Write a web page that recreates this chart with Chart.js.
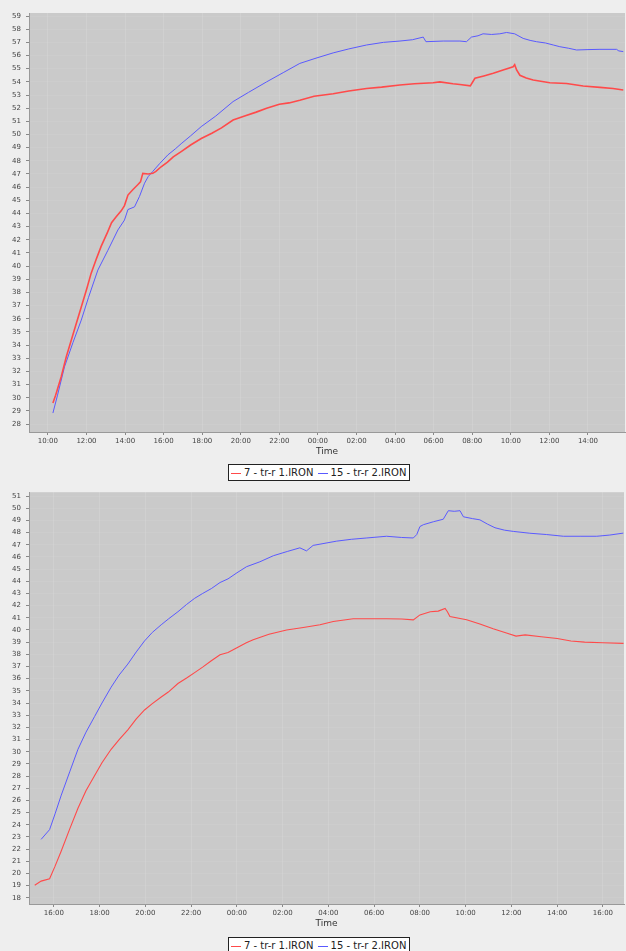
<!DOCTYPE html>
<html>
<head>
<meta charset="utf-8">
<title>IRON temperatures</title>
<script src="https://cdn.jsdelivr.net/npm/chart.js@4.4.0/dist/chart.umd.min.js"></script>
<style>
  body { margin: 0; background: #eeeeee; width: 626px; height: 951px; position: relative; overflow: hidden; font-family: "DejaVu Sans", sans-serif; }
  canvas { position: absolute; left: 0; }
  .legend { position: absolute; left: 228px; height: 15px; border: 1px solid #222; background: #fff; font-size: 10px; line-height: 15px; padding: 0 3px 0 1px; white-space: nowrap; color: #222; }
  .legend .swatch { display: inline-block; width: 10px; height: 1px; vertical-align: middle; margin: 0 3px 0 1px; }
</style>
</head>
<body>
<canvas id="topChart" width="626" height="460" style="top:0"></canvas>
<div class="legend" style="top:464px">
  <span class="swatch" style="background:#ff4a4a"></span>7 - tr-r 1.IRON
  <span class="swatch" style="background:#5a5aff"></span>15 - tr-r 2.IRON
</div>
<canvas id="bottomChart" width="626" height="449" style="top:483px"></canvas>
<div class="legend" style="top:937px">
  <span class="swatch" style="background:#ff4a4a"></span>7 - tr-r 1.IRON
  <span class="swatch" style="background:#5a5aff"></span>15 - tr-r 2.IRON
</div>

<script>
// series names
const seriesNames = ['7 - tr-r 1.IRON', '15 - tr-r 2.IRON'];

// top chart: time in hours from midnight of the first day
const topRedTime = [10.26, 10.4, 10.69, 10.95, 11.3, 11.73, 12.0, 12.24, 12.5, 12.76, 13.1, 13.3, 13.54, 13.8, 13.97, 14.15, 14.4, 14.67, 14.8, 14.92, 15.2, 15.44, 15.6, 15.87, 16.2, 16.5, 16.91, 17.4, 17.95, 18.5, 19.0, 19.6, 20.2, 20.8, 21.34, 22.0, 22.5, 23.06, 23.8, 24.79, 25.6, 26.52, 27.3, 28.25, 29.0, 29.97, 30.32, 31.0, 31.36, 31.9, 32.14, 32.6, 33.09, 33.6, 34.12, 34.2, 34.3, 34.47, 34.8, 35.16, 36.02, 36.89, 37.75, 38.62, 39.3, 39.83];
const topRed = [29.6, 30.2, 31.6, 33.1, 34.8, 36.9, 38.2, 39.45, 40.5, 41.5, 42.6, 43.3, 43.75, 44.2, 44.6, 45.4, 45.8, 46.2, 46.4, 47.05, 47.0, 47.05, 47.2, 47.55, 47.9, 48.3, 48.7, 49.2, 49.7, 50.1, 50.5, 51.1, 51.4, 51.7, 52.0, 52.3, 52.4, 52.6, 52.9, 53.1, 53.3, 53.5, 53.6, 53.76, 53.85, 53.93, 54.0, 53.85, 53.8, 53.7, 54.27, 54.45, 54.65, 54.9, 55.15, 55.3, 54.9, 54.5, 54.3, 54.14, 53.93, 53.88, 53.68, 53.58, 53.5, 53.38];

const topBlueTime = [10.26, 10.5, 10.86, 11.3, 11.73, 12.1, 12.59, 13.11, 13.63, 13.97, 14.15, 14.49, 14.75, 15.01, 15.2, 15.44, 15.8, 16.22, 16.6, 16.91, 17.4, 17.95, 18.7, 19.6, 20.4, 21.34, 22.2, 23.06, 23.9, 24.79, 25.6, 26.52, 27.4, 28.25, 28.9, 29.46, 29.6, 30.5, 31.36, 31.7, 31.96, 32.3, 32.56, 33.0, 33.43, 33.78, 34.2, 34.64, 35.0, 35.33, 35.8, 36.2, 36.54, 37.0, 37.41, 38.0, 38.62, 39.48, 39.6, 39.83];
const topBlue = [28.84, 30.2, 32.35, 34.2, 35.9, 37.6, 39.7, 41.2, 42.75, 43.5, 44.3, 44.5, 45.3, 46.3, 46.8, 47.2, 47.8, 48.45, 48.9, 49.3, 49.9, 50.6, 51.4, 52.5, 53.2, 54.0, 54.7, 55.4, 55.8, 56.2, 56.5, 56.8, 57.0, 57.1, 57.2, 57.4, 57.05, 57.1, 57.1, 57.05, 57.4, 57.5, 57.65, 57.6, 57.65, 57.75, 57.65, 57.3, 57.15, 57.05, 56.95, 56.8, 56.67, 56.55, 56.42, 56.45, 56.47, 56.47, 56.35, 56.3];

const topHourTicks = [10, 12, 14, 16, 18, 20, 22, 24, 26, 28, 30, 32, 34, 36, 38];
const topValueTicks = [28, 29, 30, 31, 32, 33, 34, 35, 36, 37, 38, 39, 40, 41, 42, 43, 44, 45, 46, 47, 48, 49, 50, 51, 52, 53, 54, 55, 56, 57, 58, 59];

// bottom chart
const bottomRedTime = [15.16, 15.44, 15.81, 16.05, 16.32, 16.7, 17.05, 17.4, 17.78, 18.1, 18.5, 18.85, 19.23, 19.6, 19.96, 20.3, 20.69, 21.0, 21.42, 21.8, 22.15, 22.5, 22.88, 23.26, 23.61, 24.0, 24.41, 24.71, 25.4, 26.17, 26.9, 27.63, 28.21, 29.08, 30.54, 31.2, 31.71, 32.0, 32.45, 32.8, 33.1, 33.2, 33.31, 34.04, 34.62, 35.2, 35.78, 36.2, 36.6, 37.3, 38.0, 38.6, 39.2, 40.0, 40.9];
const bottomRed = [19.03, 19.37, 19.57, 20.6, 21.85, 23.7, 25.35, 26.8, 28.05, 29.1, 30.2, 31.0, 31.8, 32.7, 33.43, 33.95, 34.5, 34.9, 35.6, 36.05, 36.5, 36.95, 37.47, 37.97, 38.15, 38.55, 38.95, 39.2, 39.65, 40.0, 40.2, 40.43, 40.7, 40.92, 40.92, 40.9, 40.83, 41.24, 41.5, 41.55, 41.77, 41.5, 41.1, 40.84, 40.5, 40.1, 39.76, 39.5, 39.6, 39.45, 39.3, 39.1, 39.0, 38.95, 38.9];

const bottomBlueTime = [15.44, 15.81, 16.05, 16.32, 16.7, 17.05, 17.4, 17.78, 18.1, 18.5, 18.85, 19.23, 19.6, 19.96, 20.3, 20.69, 21.0, 21.42, 21.8, 22.15, 22.5, 22.88, 23.26, 23.61, 24.0, 24.42, 25.0, 25.59, 26.2, 26.75, 27.04, 27.33, 28.36, 29.0, 29.67, 30.54, 31.2, 31.71, 31.86, 32.0, 32.15, 32.6, 33.02, 33.24, 33.5, 33.75, 33.9, 34.3, 34.62, 34.95, 35.28, 35.7, 36.08, 36.8, 37.54, 38.27, 39.0, 39.73, 40.3, 40.89];
const bottomBlue = [22.8, 23.6, 24.9, 26.43, 28.4, 30.2, 31.6, 32.9, 34.0, 35.3, 36.3, 37.2, 38.2, 39.1, 39.8, 40.43, 40.9, 41.5, 42.1, 42.6, 43.0, 43.4, 43.9, 44.2, 44.7, 45.2, 45.6, 46.1, 46.45, 46.75, 46.5, 46.95, 47.3, 47.45, 47.56, 47.7, 47.6, 47.56, 47.84, 48.5, 48.65, 48.9, 49.1, 49.8, 49.75, 49.8, 49.3, 49.15, 49.05, 48.7, 48.4, 48.2, 48.1, 47.95, 47.84, 47.7, 47.7, 47.7, 47.8, 47.96];

const bottomHourTicks = [16, 18, 20, 22, 24, 26, 28, 30, 32, 34, 36, 38, 40];
const bottomValueTicks = [18, 19, 20, 21, 22, 23, 24, 25, 26, 27, 28, 29, 30, 31, 32, 33, 34, 35, 36, 37, 38, 39, 40, 41, 42, 43, 44, 45, 46, 47, 48, 49, 50, 51];

const RED = '#ff4a4a';
const BLUE = '#5a5aff';
const FONT = '"DejaVu Sans", sans-serif';

// fill the plot area grey before anything else
const plotBackground = {
  id: 'plotBackground',
  beforeDraw(chart) {
    const { ctx, chartArea: a } = chart;
    ctx.save();
    ctx.fillStyle = '#cacaca';
    ctx.fillRect(a.left, a.top, a.right - a.left, a.bottom - a.top);
    ctx.restore();
  }
};

const toPoints = (times, values) => times.map((t, i) => ({ x: t, y: values[i] }));
const hourLabel = v => String(Math.round(v) % 24).padStart(2, '0') + ':00';

function buildChart(id, cfg) {
  return new Chart(document.getElementById(id), {
    type: 'line',
    data: {
      datasets: [
        { label: seriesNames[0], data: toPoints(cfg.redTime, cfg.red), borderColor: RED, borderWidth: cfg.redWidth, pointRadius: 0, tension: 0 },
        { label: seriesNames[1], data: toPoints(cfg.blueTime, cfg.blue), borderColor: BLUE, borderWidth: 1, pointRadius: 0, tension: 0 }
      ]
    },
    options: {
      responsive: false,
      animation: false,
      layout: { padding: { top: cfg.padTop, right: cfg.padRight, left: 0, bottom: 0 } },
      plugins: { legend: { display: false }, tooltip: { enabled: false } },
      scales: {
        x: {
          type: 'linear',
          min: cfg.xMin,
          max: cfg.xMax,
          afterBuildTicks: axis => { axis.ticks = cfg.xTicks.map(v => ({ value: v })); },
          afterFit: axis => { axis.height = cfg.xHeight; },
          ticks: { callback: hourLabel, font: { size: 7, family: FONT }, color: '#444', padding: 2, maxRotation: 0, autoSkip: false },
          grid: { color: 'rgba(255,255,255,0.12)', tickColor: '#888', tickLength: 3 },
          border: { color: '#999' },
          title: { display: true, text: 'Time', font: { size: 9, family: FONT }, color: '#333', padding: { top: 0, bottom: 3 } }
        },
        y: {
          min: cfg.yMin,
          max: cfg.yMax,
          afterBuildTicks: axis => { axis.ticks = cfg.yTicks.map(v => ({ value: v })); },
          afterFit: axis => { axis.width = 29; },
          ticks: { font: { size: 7, family: FONT }, color: '#444', padding: 5, autoSkip: false },
          grid: { color: 'rgba(255,255,255,0.06)', tickColor: '#888', tickLength: 3 },
          border: { color: '#999' }
        }
      }
    },
    plugins: [plotBackground]
  });
}

buildChart('topChart', {
  redTime: topRedTime, red: topRed, blueTime: topBlueTime, blue: topBlue, redWidth: 1.6,
  xMin: 9.02, xMax: 39.92, xTicks: topHourTicks,
  yMin: 27.4, yMax: 59.23, yTicks: topValueTicks,
  padTop: 13, padRight: 1, xHeight: 28
});

buildChart('bottomChart', {
  redTime: bottomRedTime, red: bottomRed, blueTime: bottomBlueTime, blue: bottomBlue, redWidth: 1.1,
  xMin: 14.91, xMax: 40.92, xTicks: bottomHourTicks,
  yMin: 17.49, yMax: 51.32, yTicks: bottomValueTicks,
  padTop: 2, padRight: 2, xHeight: 28
});
</script>
</body>
</html>
